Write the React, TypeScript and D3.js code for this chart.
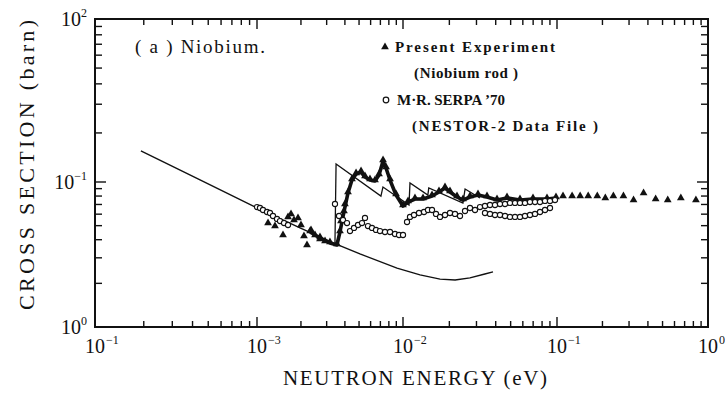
import { useEffect, useRef } from "react";
import * as d3 from "d3";

const W = 725;
const H = 394;

// axis breakpoints (the scanned axes are not perfectly even, so piecewise log)
const xDecades = [1e-4, 1e-3, 1e-2, 1e-1, 1];
const yDecades = [0.01, 0.1, 1];
const xTickExp = ["\u22121", "\u22123", "\u22122", "\u22121", "0"];
const yTickExp = ["0", "\u22121", "2"];

// smooth thin curve (1/v part)
const smoothE = [1.92e-4, 4.45e-4, 9.7e-4, 1.97e-3, 3.32e-3, 5.07e-3, 9.1e-3, 1.29e-2, 1.74e-2, 2.18e-2, 2.72e-2, 3.4e-2, 3.84e-2];
const smoothS = [0.155, 0.103, 0.0673, 0.0482, 0.038, 0.0319, 0.0255, 0.0229, 0.0214, 0.0211, 0.0218, 0.0232, 0.024];

// thin sawtooth curve (Bragg edges)
const sawE = [3.42e-3, 3.48e-3, 7.06e-3, 7.29e-3, 1.094e-2, 1.11e-2, 1.45e-2, 1.47e-2, 2.45e-2, 2.53e-2, 3.16e-2];
const sawS = [0.038, 0.129, 0.08, 0.0924, 0.0693, 0.0984, 0.0813, 0.0909, 0.0716, 0.0895, 0.0776];

// present experiment, dense part (drawn as heavy line of triangles)
const denseE = [2.31e-3, 2.7e-3, 3.16e-3, 3.53e-3, 3.7e-3, 3.94e-3, 4.2e-3, 4.47e-3, 4.77e-3, 5.16e-3, 5.49e-3, 5.94e-3, 6.43e-3, 6.85e-3, 7.3e-3, 7.65e-3, 8.15e-3, 8.96e-3, 1.0e-2, 1.078e-2, 1.196e-2, 1.349e-2, 1.543e-2, 1.713e-2, 1.874e-2, 2.019e-2, 2.242e-2, 2.453e-2, 2.723e-2, 3.069e-2, 3.511e-2, 4.078e-2, 4.736e-2, 5.751e-2, 6.985e-2, 8.611e-2, 9.851e-2];
const denseS = [0.0452, 0.0411, 0.038, 0.0368, 0.0452, 0.0621, 0.084, 0.1028, 0.112, 0.1151, 0.1073, 0.1028, 0.1014, 0.1104, 0.1345, 0.1219, 0.1028, 0.0813, 0.0683, 0.0728, 0.0763, 0.0763, 0.08, 0.0853, 0.0909, 0.0853, 0.0788, 0.0751, 0.0788, 0.0813, 0.0788, 0.0751, 0.0776, 0.0751, 0.0763, 0.0763, 0.0776];

// present experiment, scattered points
const lowTriE = [1.19e-3, 1.328e-3, 1.507e-3, 1.631e-3, 1.71e-3, 1.792e-3, 1.909e-3, 2.001e-3, 2.098e-3, 2.2e-3, 2.344e-3, 2.497e-3, 2.701e-3, 2.923e-3, 3.76e-3, 4.0e-3];
const lowTriS = [0.0513, 0.0489, 0.0424, 0.0565, 0.0592, 0.0538, 0.0556, 0.0497, 0.0418, 0.0362, 0.0459, 0.0424, 0.0398, 0.0386, 0.053, 0.0694];
const highTriE = [0.1096, 0.1259, 0.1423, 0.1609, 0.1848, 0.2089, 0.2362, 0.2754, 0.3213, 0.3744, 0.4501, 0.5412, 0.6607, 0.8318];
const highTriS = [0.0788, 0.0788, 0.0788, 0.0788, 0.0788, 0.0763, 0.0788, 0.0788, 0.074, 0.0827, 0.0751, 0.074, 0.0763, 0.074];

// M.R. SERPA '70 (open circles)
const serpa1E = [1.0e-3, 1.048e-3, 1.099e-3, 1.171e-3, 1.227e-3, 1.287e-3, 1.371e-3, 1.437e-3, 1.531e-3, 1.631e-3];
const serpa1S = [0.0672, 0.0662, 0.0641, 0.0621, 0.0611, 0.0583, 0.0556, 0.0538, 0.0521, 0.0505];
const serpa2E = [3.421e-3, 3.645e-3, 3.882e-3, 4.135e-3, 4.335e-3, 4.617e-3, 4.918e-3, 5.238e-3, 5.491e-3, 5.757e-3, 6.133e-3, 6.533e-3, 6.958e-3, 7.529e-3, 8.147e-3, 8.814e-3, 9.389e-3, 1.0e-2];
const serpa2S = [0.0705, 0.0583, 0.0547, 0.0521, 0.0459, 0.0482, 0.0505, 0.0521, 0.0565, 0.0497, 0.0482, 0.0467, 0.0459, 0.0452, 0.0452, 0.0438, 0.0431, 0.0431];
const serpa3E = [1.062e-2, 1.11e-2, 1.179e-2, 1.27e-2, 1.369e-2, 1.453e-2, 1.543e-2, 1.638e-2, 1.739e-2, 1.874e-2, 2.019e-2, 2.176e-2, 2.345e-2, 2.527e-2, 2.723e-2, 2.935e-2, 3.162e-2, 3.407e-2, 3.672e-2, 3.957e-2, 4.265e-2, 4.596e-2, 4.952e-2, 5.337e-2, 5.751e-2, 6.197e-2, 6.678e-2, 7.197e-2, 7.755e-2, 8.357e-2, 9.006e-2, 9.705e-2];
const serpa3S = [0.053, 0.0574, 0.0592, 0.0611, 0.0621, 0.0641, 0.0641, 0.0602, 0.0574, 0.0592, 0.0611, 0.0602, 0.0583, 0.0631, 0.0662, 0.0641, 0.0672, 0.0683, 0.0694, 0.0694, 0.0705, 0.0705, 0.0717, 0.0717, 0.0717, 0.0717, 0.0728, 0.0728, 0.0728, 0.074, 0.074, 0.0751];
const serpa4E = [3.407e-2, 3.672e-2, 3.957e-2, 4.265e-2, 4.596e-2, 4.952e-2, 5.337e-2, 5.751e-2, 6.197e-2, 6.678e-2, 7.197e-2, 7.755e-2, 8.357e-2, 9.006e-2];
const serpa4S = [0.0611, 0.0602, 0.0592, 0.0592, 0.0583, 0.0574, 0.0574, 0.0574, 0.0583, 0.0592, 0.0602, 0.0621, 0.0641, 0.0662];

const zip = (e: number[], s: number[]) => e.map((v, i) => [v, s[i]] as [number, number]);
const FONT = "'Liberation Serif', 'DejaVu Serif', serif";

export default function App() {
  const svgRef = useRef<SVGSVGElement>(null);

  useEffect(() => {
    if (!svgRef.current) return;
    const svg = d3.select(svgRef.current);
    svg.selectAll("*").remove();

    const x = d3.scaleLog().domain(xDecades).range([95, 257, 403, 557, 708]);
    const y = d3.scaleLog().domain(yDecades).range([327, 182, 19]);
    const [x0, x1] = [x(xDecades[0]), x(xDecades[xDecades.length - 1])];
    const [y0, y1] = [y(yDecades[0]), y(yDecades[yDecades.length - 1])];

    const g = svg.append("g").attr("fill", "none").attr("stroke", "#111");

    // frame
    g.append("rect")
      .attr("x", x0).attr("y", y1)
      .attr("width", x1 - x0).attr("height", y0 - y1)
      .attr("stroke-width", 2);

    const isMajor = (v: number) => Math.abs(Math.log10(v) - Math.round(Math.log10(v))) < 1e-6;

    // ticks on all four sides, pointing inward
    x.ticks().forEach((v) => {
      const len = isMajor(v) ? 10 : 6;
      const px = x(v);
      g.append("line").attr("x1", px).attr("x2", px).attr("y1", y0).attr("y2", y0 - len).attr("stroke-width", 1.4);
      g.append("line").attr("x1", px).attr("x2", px).attr("y1", y1).attr("y2", y1 + len).attr("stroke-width", 1.4);
    });
    y.ticks().forEach((v) => {
      const len = isMajor(v) ? 11 : 7;
      const py = y(v);
      g.append("line").attr("x1", x0).attr("x2", x0 + len).attr("y1", py).attr("y2", py).attr("stroke-width", 1.4);
      g.append("line").attr("x1", x1).attr("x2", x1 - len).attr("y1", py).attr("y2", py).attr("stroke-width", 1.4);
    });

    // tick labels
    const t = svg.append("g").attr("fill", "#111").style("font-family", FONT);
    xDecades.forEach((v, i) => {
      t.append("text").attr("x", x(v)).attr("y", 353).attr("text-anchor", "middle")
        .style("font-size", "20px").text("10");
      t.append("text").attr("x", x(v) + 11).attr("y", 344)
        .style("font-size", "12px").text(xTickExp[i]);
    });
    yDecades.forEach((v, i) => {
      const txt = t.append("text").attr("x", 87).attr("y", y(v) + 7).attr("text-anchor", "end");
      txt.append("tspan").style("font-size", "20px").text("10");
      txt.append("tspan").attr("dy", -9).style("font-size", "12px").text(yTickExp[i]);
    });

    // axis titles
    t.append("text").attr("x", 283).attr("y", 385)
      .attr("textLength", 264).attr("lengthAdjust", "spacing")
      .style("font-size", "21px").text("NEUTRON ENERGY (eV)");
    t.append("text").attr("transform", "translate(34,310) rotate(-90)")
      .attr("textLength", 290).attr("lengthAdjust", "spacing")
      .style("font-size", "22px").text("CROSS SECTION (barn)");

    // panel label and legend
    t.append("text").attr("x", 135).attr("y", 53)
      .attr("textLength", 130).attr("lengthAdjust", "spacing")
      .style("font-size", "19px").text("( a ) Niobium.");

    const tri = d3.symbol().type(d3.symbolTriangle).size(26);
    t.append("path").attr("d", tri()).attr("transform", "translate(385,47)");
    t.append("text").attr("x", 395).attr("y", 52).attr("textLength", 160).attr("lengthAdjust", "spacing")
      .style("font-size", "15px").style("font-weight", "bold").text("Present Experiment");
    t.append("text").attr("x", 414).attr("y", 78).attr("textLength", 104).attr("lengthAdjust", "spacing")
      .style("font-size", "15px").style("font-weight", "bold").text("(Niobium rod )");
    t.append("circle").attr("cx", 386).attr("cy", 100).attr("r", 2.8)
      .attr("fill", "#fff").attr("stroke", "#111").attr("stroke-width", 1.2);
    t.append("text").attr("x", 397).attr("y", 105).attr("textLength", 108).attr("lengthAdjust", "spacing")
      .style("font-size", "15px").style("font-weight", "bold").text("M\u00b7R. SERPA \u201970");
    t.append("text").attr("x", 412).attr("y", 131).attr("textLength", 186).attr("lengthAdjust", "spacing")
      .style("font-size", "15px").style("font-weight", "bold").text("(NESTOR-2 Data File )");

    // curves
    const line = d3.line<[number, number]>().x((d) => x(d[0])).y((d) => y(d[1]));
    const plot = svg.append("g");
    plot.append("path").datum(zip(smoothE, smoothS)).attr("d", line)
      .attr("fill", "none").attr("stroke", "#111").attr("stroke-width", 1.4);
    plot.append("path").datum(zip(sawE, sawS)).attr("d", line)
      .attr("fill", "none").attr("stroke", "#111").attr("stroke-width", 1.3);
    plot.append("path").datum(zip(denseE, denseS)).attr("d", line)
      .attr("fill", "none").attr("stroke", "#111").attr("stroke-width", 3.6)
      .attr("stroke-linejoin", "round");

    // triangles
    const triPts = [...zip(denseE, denseS), ...zip(lowTriE, lowTriS), ...zip(highTriE, highTriS)];
    plot.selectAll(".tri").data(triPts).enter().append("path")
      .attr("class", "tri").attr("d", tri())
      .attr("transform", (d) => `translate(${x(d[0])},${y(d[1]) - 1})`)
      .attr("fill", "#111");

    // open circles
    const circPts = [...zip(serpa1E, serpa1S), ...zip(serpa2E, serpa2S), ...zip(serpa3E, serpa3S), ...zip(serpa4E, serpa4S)];
    plot.selectAll(".circ").data(circPts).enter().append("circle")
      .attr("class", "circ")
      .attr("cx", (d) => x(d[0])).attr("cy", (d) => y(d[1])).attr("r", 2.6)
      .attr("fill", "#fff").attr("stroke", "#111").attr("stroke-width", 1.1);
  }, []);

  return (
    <svg
      ref={svgRef}
      width={W}
      height={H}
      style={{ position: "absolute", left: 0, top: 0, background: "#fff" }}
    />
  );
}
